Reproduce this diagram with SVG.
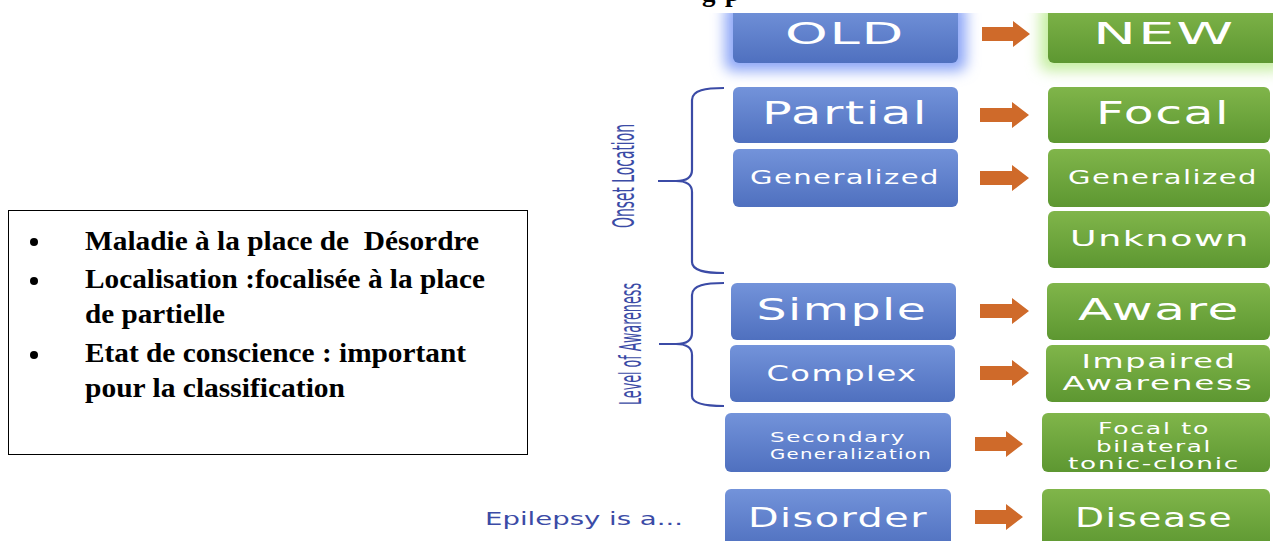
<svg xmlns="http://www.w3.org/2000/svg" width="1273" height="541" viewBox="0 0 1273 541">
<style>
.bl{fill:url(#gb)}
.gr{fill:url(#gg)}
.t{font-family:"DejaVu Sans",Verdana,sans-serif;fill:#fff;text-anchor:middle;letter-spacing:1px}
.ar{fill:#CF6A2A}
.br{fill:none;stroke:#3B4BA6;stroke-width:2.2}
.lab{font-family:"DejaVu Sans Condensed","Liberation Sans",sans-serif;fill:#3B4BA6}
.fr{font-family:"Liberation Serif","Times New Roman",serif;font-weight:bold;font-size:27px;fill:#000}
</style>
<defs>
<linearGradient id="gb" x1="0" y1="0" x2="0" y2="1"><stop offset="0" stop-color="#7393DA"/><stop offset="1" stop-color="#4F70BF"/></linearGradient>
<linearGradient id="gg" x1="0" y1="0" x2="0" y2="1"><stop offset="0" stop-color="#80B54A"/><stop offset="1" stop-color="#5D9731"/></linearGradient>
<filter id="glow" x="-30%" y="-60%" width="160%" height="220%"><feGaussianBlur stdDeviation="7"/></filter>
<clipPath id="clipTop"><rect x="600" y="13" width="673" height="528"/></clipPath>
</defs>
<rect width="1273" height="541" fill="#fff"/>
<text class="fr" x="702 714 725" y="1" font-size="22">g p</text>

<g id="text-box">
<rect x="8.5" y="210.5" width="519" height="244" fill="#fff" stroke="#000" stroke-width="1"/>
<circle cx="34" cy="242" r="4" fill="#000"/>
<circle cx="34" cy="281" r="4" fill="#000"/>
<circle cx="34" cy="355" r="4" fill="#000"/>
<text class="fr" x="85" y="250" xml:space="preserve" textLength="394" lengthAdjust="spacingAndGlyphs">Maladie à la place de  Désordre</text>
<text class="fr" x="85" y="288" textLength="400" lengthAdjust="spacingAndGlyphs">Localisation :focalisée à la place</text>
<text class="fr" x="85" y="323" textLength="140" lengthAdjust="spacingAndGlyphs">de partielle</text>
<text class="fr" x="85" y="362" textLength="381" lengthAdjust="spacingAndGlyphs">Etat de conscience : important</text>
<text class="fr" x="85" y="397" textLength="260" lengthAdjust="spacingAndGlyphs">pour la classification</text>
</g>

<g clip-path="url(#clipTop)">
<g id="old">
<rect x="725" y="3" width="241" height="68" rx="8" fill="#8CA6F7" filter="url(#glow)"/>
<rect class="bl" x="733" y="5" width="225" height="58" rx="6"/>
<text class="t" x="845" y="44" font-size="31" textLength="120" lengthAdjust="spacingAndGlyphs">OLD</text>
</g>
<g id="new">
<rect x="1040" y="3" width="244" height="68" rx="8" fill="#C6EEA2" filter="url(#glow)"/>
<rect class="gr" x="1048" y="5" width="232" height="58" rx="6"/>
<text class="t" x="1164" y="44" font-size="31" textLength="142" lengthAdjust="spacingAndGlyphs">NEW</text>
</g>
</g>

<g id="partial"><rect class="bl" x="733" y="87" width="225" height="56" rx="6"/><text class="t" x="845" y="124" font-size="32" textLength="166" lengthAdjust="spacingAndGlyphs">Partial</text></g>
<g id="focal"><rect class="gr" x="1048" y="87" width="222" height="56" rx="6"/><text class="t" x="1163" y="124" font-size="32" textLength="134" lengthAdjust="spacingAndGlyphs">Focal</text></g>
<g id="generalized-old"><rect class="bl" x="733" y="149" width="225" height="58" rx="6"/><text class="t" x="845" y="184" font-size="20" textLength="190" lengthAdjust="spacingAndGlyphs">Generalized</text></g>
<g id="generalized-new"><rect class="gr" x="1048" y="149" width="222" height="58" rx="6"/><text class="t" x="1163" y="184" font-size="20" textLength="190" lengthAdjust="spacingAndGlyphs">Generalized</text></g>
<g id="unknown"><rect class="gr" x="1048" y="211" width="222" height="57" rx="6"/><text class="t" x="1160" y="246" font-size="22" textLength="180" lengthAdjust="spacingAndGlyphs">Unknown</text></g>
<g id="simple"><rect class="bl" x="731" y="283" width="225" height="57" rx="6"/><text class="t" x="842" y="320" font-size="31" textLength="171" lengthAdjust="spacingAndGlyphs">Simple</text></g>
<g id="aware"><rect class="gr" x="1047" y="283" width="223" height="57" rx="6"/><text class="t" x="1159" y="320" font-size="31" textLength="162" lengthAdjust="spacingAndGlyphs">Aware</text></g>
<g id="complex"><rect class="bl" x="730" y="345" width="225" height="57" rx="6"/><text class="t" x="842" y="381" font-size="22" textLength="151" lengthAdjust="spacingAndGlyphs">Complex</text></g>
<g id="impaired"><rect class="gr" x="1046" y="345" width="224" height="57" rx="6"/><text class="t" x="1159" y="368" font-size="19" textLength="155" lengthAdjust="spacingAndGlyphs">Impaired</text><text class="t" x="1158" y="390" font-size="19" textLength="191" lengthAdjust="spacingAndGlyphs">Awareness</text></g>
<g id="secondary"><rect class="bl" x="725" y="413" width="226" height="59" rx="6"/><text class="t" x="838" y="442" font-size="14.5" textLength="136" lengthAdjust="spacingAndGlyphs">Secondary</text><text class="t" x="851" y="459" font-size="14.5" textLength="162" lengthAdjust="spacingAndGlyphs">Generalization</text></g>
<g id="focal-bilateral"><rect class="gr" x="1042" y="413" width="228" height="59" rx="6"/><text class="t" x="1154" y="434" font-size="15" textLength="112" lengthAdjust="spacingAndGlyphs">Focal to</text><text class="t" x="1154" y="452" font-size="15" textLength="116" lengthAdjust="spacingAndGlyphs">bilateral</text><text class="t" x="1154" y="469" font-size="15" textLength="172" lengthAdjust="spacingAndGlyphs">tonic-clonic</text></g>
<g id="disorder"><rect class="bl" x="725" y="489" width="226" height="60" rx="6"/><text class="t" x="838" y="527" font-size="27" textLength="180" lengthAdjust="spacingAndGlyphs">Disorder</text></g>
<g id="disease"><rect class="gr" x="1042" y="489" width="228" height="60" rx="6"/><text class="t" x="1154" y="527" font-size="27" textLength="158" lengthAdjust="spacingAndGlyphs">Disease</text></g>

<g id="epilepsy"><text x="485" y="525" font-family="DejaVu Sans,Verdana,sans-serif" font-size="17" fill="#3B4BA6" textLength="198" lengthAdjust="spacingAndGlyphs">Epilepsy is a...</text></g>

<g id="onset-location">
<path class="br" d="M724 88 C706 88 692 90 692 100 L692 170 C692 178 686 181 676 181 L658 181 M676 181 C686 181 692 184 692 192 L692 262 C692 271 706 273 724 273"/>
<text class="lab" transform="translate(634 176) rotate(-90)" font-size="30" text-anchor="middle" textLength="104" lengthAdjust="spacingAndGlyphs">Onset Location</text>
</g>
<g id="level-of-awareness">
<path class="br" d="M724 283 C706 283 692 285 692 295 L692 333 C692 341 686 344 676 344 L659 344 M676 344 C686 344 692 347 692 355 L692 396 C692 404 706 406 724 406"/>
<text class="lab" transform="translate(641 344) rotate(-90)" font-size="30" text-anchor="middle" textLength="122" lengthAdjust="spacingAndGlyphs">Level of Awareness</text>
</g>

<g id="connectors">
<path class="ar" d="M982 27 L1013 27 L1013 21 L1030 34 L1013 47 L1013 41 L982 41 Z"/>
<path class="ar" d="M980 108 L1012 108 L1012 102 L1029 115 L1012 128 L1012 122 L980 122 Z"/>
<path class="ar" d="M980 171 L1012 171 L1012 165 L1029 178 L1012 191 L1012 185 L980 185 Z"/>
<path class="ar" d="M980 304 L1012 304 L1012 298 L1029 311 L1012 324 L1012 318 L980 318 Z"/>
<path class="ar" d="M980 366 L1012 366 L1012 360 L1029 373 L1012 386 L1012 380 L980 380 Z"/>
<path class="ar" d="M975 437 L1006 437 L1006 431 L1023 444 L1006 457 L1006 451 L975 451 Z"/>
<path class="ar" d="M975 510 L1006 510 L1006 504 L1023 517 L1006 530 L1006 524 L975 524 Z"/>
</g>
</svg>
